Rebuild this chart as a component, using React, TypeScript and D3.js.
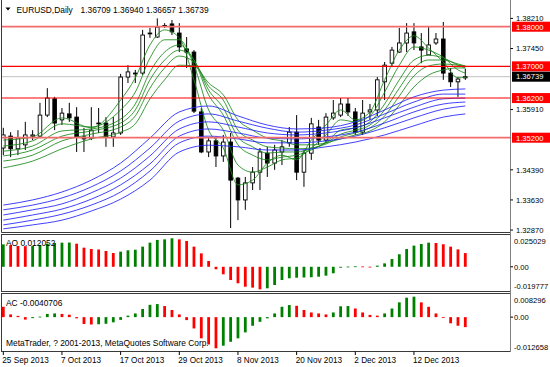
import React from 'react';
import * as d3 from 'd3';

const TITLE = 'EURUSD,Daily';
const TITLE_VALUES = '1.36709 1.36940 1.36657 1.36739';
const COPYRIGHT = 'MetaTrader, ? 2001-2013, MetaQuotes Software Corp.';

const OPEN = [1.3494,1.3524,1.3492,1.3502,1.3524,1.3524,1.3577,1.3618,1.3565,1.3580,1.3572,1.3522,1.3519,1.3557,1.3557,1.3522,1.3532,1.3673,1.3681,1.3683,1.3782,1.3774,1.3802,1.3807,1.3784,1.3744,1.3736,1.3585,1.3484,1.3512,1.3474,1.3509,1.3418,1.3363,1.3406,1.3433,1.3481,1.3456,1.3484,1.3507,1.3534,1.3433,1.3481,1.3547,1.3514,1.3570,1.3577,1.3605,1.3585,1.3534,1.3585,1.3590,1.3661,1.3708,1.3736,1.3759,1.3787,1.3749,1.3729,1.3759,1.3769,1.3683,1.3661,1.36709];
const HIGH = [1.3545,1.3534,1.3539,1.3560,1.3539,1.3608,1.3645,1.3623,1.3595,1.3608,1.3597,1.3545,1.3597,1.3595,1.3572,1.3572,1.3681,1.3703,1.3691,1.3792,1.3797,1.3821,1.3809,1.3817,1.3809,1.3774,1.3741,1.3595,1.3522,1.3522,1.3527,1.3532,1.3421,1.3421,1.3446,1.3494,1.3497,1.3502,1.3514,1.3547,1.3577,1.3489,1.3570,1.3565,1.3582,1.3615,1.3620,1.3620,1.3595,1.3615,1.3605,1.3673,1.3711,1.3749,1.3797,1.3809,1.3809,1.3784,1.3799,1.3784,1.3812,1.3696,1.3673,1.36940];
const LOW = [1.3476,1.3471,1.3476,1.3489,1.3514,1.3519,1.3572,1.3539,1.3552,1.3560,1.3484,1.3484,1.3514,1.3532,1.3497,1.3497,1.3527,1.3658,1.3658,1.3678,1.3772,1.3772,1.3797,1.3779,1.3736,1.3696,1.3582,1.3481,1.3471,1.3446,1.3459,1.3292,1.3312,1.3338,1.3388,1.3388,1.3421,1.3439,1.3451,1.3497,1.3413,1.3396,1.3464,1.3502,1.3507,1.3565,1.3572,1.3575,1.3527,1.3527,1.3565,1.3575,1.3615,1.3698,1.3734,1.3736,1.3741,1.3708,1.3729,1.3754,1.3666,1.3648,1.3623,1.36657];
const CLOSE = [1.3527,1.3492,1.3519,1.3527,1.3527,1.3577,1.3620,1.3557,1.3582,1.3570,1.3522,1.3517,1.3539,1.3556,1.3522,1.3532,1.3673,1.3686,1.3683,1.3779,1.3784,1.3799,1.3803,1.3787,1.3749,1.3736,1.3587,1.3484,1.3512,1.3474,1.3509,1.3413,1.3363,1.3406,1.3433,1.3484,1.3456,1.3489,1.3497,1.3534,1.3433,1.3481,1.3555,1.3514,1.3572,1.3582,1.3605,1.3585,1.3534,1.3582,1.3590,1.3666,1.3703,1.3741,1.3759,1.3784,1.3759,1.3741,1.3754,1.3769,1.3683,1.3661,1.3668,1.36739];

// short-term moving averages (green), sampled at these bars
const GREEN_BARS = [0,4,8,12,16,18,20,22,24,26,28,30,32,34,36,38,40,42,44,46,48,50,52,54,56,58,60,62,63];
const G1 = [1.3514,1.3522,1.3570,1.3545,1.3615,1.3671,1.3754,1.3792,1.3772,1.3666,1.3539,1.3494,1.3401,1.3413,1.3456,1.3476,1.3464,1.3514,1.3552,1.3590,1.3565,1.3585,1.3666,1.3741,1.3777,1.3746,1.3711,1.3671,1.3673];
const G2 = [1.3499,1.3512,1.3555,1.3547,1.3590,1.3635,1.3721,1.3767,1.3767,1.3703,1.3590,1.3539,1.3451,1.3433,1.3446,1.3464,1.3469,1.3494,1.3527,1.3565,1.3560,1.3575,1.3635,1.3703,1.3749,1.3741,1.3723,1.3691,1.3683];
const G3 = [1.3486,1.3499,1.3537,1.3542,1.3567,1.3605,1.3686,1.3736,1.3754,1.3716,1.3628,1.3577,1.3502,1.3476,1.3464,1.3471,1.3476,1.3489,1.3509,1.3539,1.3545,1.3560,1.3605,1.3666,1.3716,1.3728,1.3721,1.3703,1.3696];
const G4 = [1.3474,1.3489,1.3524,1.3537,1.3557,1.3590,1.3666,1.3716,1.3741,1.3716,1.3640,1.3595,1.3522,1.3497,1.3481,1.3484,1.3484,1.3492,1.3507,1.3529,1.3539,1.3552,1.3590,1.3645,1.3696,1.3716,1.3716,1.3706,1.3701];
const G5 = [1.3461,1.3476,1.3512,1.3529,1.3547,1.3575,1.3645,1.3696,1.3726,1.3711,1.3650,1.3615,1.3539,1.3514,1.3497,1.3494,1.3492,1.3494,1.3504,1.3522,1.3532,1.3545,1.3575,1.3625,1.3676,1.3701,1.3706,1.3703,1.3701];
const G6 = [1.3444,1.3461,1.3492,1.3517,1.3534,1.3555,1.3618,1.3666,1.3703,1.3701,1.3658,1.3628,1.3565,1.3539,1.3519,1.3512,1.3502,1.3502,1.3507,1.3517,1.3527,1.3537,1.3560,1.3602,1.3648,1.3678,1.3691,1.3696,1.3696];

// long-term moving averages (blue)
const BLUE_BARS = [0,4,8,12,16,20,24,28,32,36,40,44,48,52,56,60,63];
const B1 = [1.3350,1.3363,1.3383,1.3413,1.3456,1.3519,1.3585,1.3600,1.3575,1.3552,1.3542,1.3545,1.3560,1.3590,1.3623,1.3640,1.3643];
const B2 = [1.3338,1.3350,1.3368,1.3396,1.3436,1.3494,1.3562,1.3580,1.3562,1.3544,1.3534,1.3539,1.3552,1.3580,1.3610,1.3630,1.3630];
const B3 = [1.3325,1.3338,1.3353,1.3381,1.3418,1.3474,1.3542,1.3560,1.3547,1.3532,1.3527,1.3532,1.3545,1.3570,1.3597,1.3618,1.3620];
const B4 = [1.3312,1.3325,1.3340,1.3365,1.3401,1.3454,1.3524,1.3542,1.3532,1.3519,1.3517,1.3522,1.3534,1.3557,1.3585,1.3605,1.3610];
const B5 = [1.3300,1.3312,1.3327,1.3350,1.3383,1.3436,1.3507,1.3524,1.3517,1.3507,1.3507,1.3512,1.3524,1.3545,1.3570,1.3592,1.3600];
const B6 = [1.3290,1.3300,1.3312,1.3335,1.3365,1.3413,1.3484,1.3501,1.3497,1.3489,1.3489,1.3497,1.3509,1.3527,1.3550,1.3572,1.3580];

const AO_BEFORE = 0.0194;
const AO = [0.0197,0.0190,0.0183,0.0181,0.0183,0.0192,0.0203,0.0209,0.0212,0.0213,0.0203,0.0168,0.0156,0.0152,0.0139,0.0121,0.0133,0.0145,0.0150,0.0177,0.0212,0.0236,0.0241,0.025029,0.0241,0.0227,0.0177,0.0118,0.0051,-0.0022,-0.0066,-0.0116,-0.0145,-0.0175,-0.0183,-0.019777,-0.0189,-0.0160,-0.0116,-0.0101,-0.0096,-0.0094,-0.0092,-0.0087,-0.0078,-0.0057,-0.0008,0.0002,0.0004,0.0003,0.0001,0.0010,0.0030,0.0068,0.0110,0.0156,0.0186,0.0200,0.0212,0.0209,0.0198,0.0177,0.0153,0.012052];
const AC_BEFORE = 0.0050;
const AC = [0.0042,0.0011,0.0005,-0.0010,-0.0004,0.0002,0.0013,0.0015,0.0013,0.0010,-0.0005,-0.0028,-0.0030,-0.0029,-0.0027,-0.0021,-0.0011,0.0006,0.0015,0.0033,0.0050,0.0053,0.0045,0.0029,0.0011,-0.0012,-0.0046,-0.0086,-0.0111,-0.012658,-0.0116,-0.0100,-0.0086,-0.0062,-0.0035,-0.0019,-0.0005,0.0015,0.0042,0.0049,0.0046,0.0029,0.0019,0.0015,0.0011,0.0019,0.0044,0.0045,0.0035,0.0019,0.0009,0.0006,0.0015,0.0035,0.0060,0.0079,0.008296,0.0060,0.0042,0.0015,-0.0001,-0.0025,-0.0035,-0.0040706];

const PRICE_TICKS = [1.3821, 1.3745, 1.3591, 1.3439, 1.3363, 1.3287];
const LEVELS = [1.38, 1.37, 1.362, 1.352];
const CURRENT = 1.36739;
const AO_RANGE = [-0.019777, 0.025029];
const AC_RANGE = [-0.012658, 0.008296];
const DATE_BARS = [0, 8, 16, 24, 32, 40, 48, 56];
const DATE_LABELS = ['25 Sep 2013', '7 Oct 2013', '17 Oct 2013', '29 Oct 2013', '8 Nov 2013', '20 Nov 2013', '2 Dec 2013', '12 Dec 2013'];

const FONT = "'Liberation Sans', Arial, sans-serif";
const GREEN = '#008000';
const RED = '#ff0000';
// look of each level line (the outer two render softer in the reference)
const LEVEL_COLOR = ['#f36c6c', RED, RED, '#f36c6c'];
const LEVEL_WIDTH = [1.7, 1.1, 1.1, 1.7];

export default function App() {
  const x = d3.scaleLinear().domain([0, 63]).range([3.3, 465.3]);
  const y = d3.scaleLinear().domain([1.32821, 1.38674]).range([232, 0]);
  const yAO = d3.scaleLinear().domain(AO_RANGE).range([289.3, 238.3]);
  const yAC = d3.scaleLinear().domain(AC_RANGE).range([348.3, 296.7]);
  const XL = 1.5, XR = 510.5;

  const mkLine = (bars: number[], vals: number[]) =>
    d3.line<number>().x((_, i) => x(bars[i])).y(v => y(v)).curve(d3.curveMonotoneX)(vals) || '';

  const greens = [G1, G2, G3, G4, G5, G6];
  const blues = [B1, B2, B3, B4, B5, B6];

  const fmt = (v: number) => v.toFixed(5);

  return (
    <svg width={550} height={367} style={{ position: 'absolute', left: 0, top: 0, background: '#fff' }} fontFamily={FONT}>
      <defs>
        <clipPath id="mainclip"><rect x={XL} y={0} width={XR - XL} height={232.5} /></clipPath>
        <clipPath id="aoclip"><rect x={XL} y={234.5} width={XR - XL} height={57} /></clipPath>
        <clipPath id="acclip"><rect x={XL} y={293.5} width={XR - XL} height={58} /></clipPath>
      </defs>
      <rect x={0} y={0} width={550} height={367} fill="#fff" />

      {/* main panel */}
      <g clipPath="url(#mainclip)">
        <line x1={XL} x2={XR} y1={y(CURRENT)} y2={y(CURRENT)} stroke="#c0c0c0" strokeWidth={1} />
        {OPEN.map((o, i) => {
          const c = CLOSE[i];
          const cx = x(i);
          const top = y(Math.max(o, c));
          const bot = y(Math.min(o, c));
          const up = c >= o;
          return (
            <g key={i}>
              <line x1={cx} x2={cx} y1={y(HIGH[i])} y2={y(LOW[i])} stroke="#000" strokeWidth={1} />
              <rect x={cx - 1.8} y={top} width={3.6} height={Math.max(bot - top, 0.8)}
                fill={up ? '#fff' : '#000'} stroke="#000" strokeWidth={0.9} />
            </g>
          );
        })}
        {greens.map((g, k) => (
          <path key={'g' + k} d={mkLine(GREEN_BARS, g)} fill="none" stroke="#1a8a1a" strokeOpacity={0.85} strokeWidth={1} />
        ))}
        {blues.map((b, k) => (
          <path key={'b' + k} d={mkLine(BLUE_BARS, b)} fill="none" stroke="#2020ff" strokeOpacity={0.85} strokeWidth={1} />
        ))}
        {LEVELS.map((lv, k) => (
          <line key={'lv' + k} x1={XL} x2={XR} y1={y(lv)} y2={y(lv)} stroke={LEVEL_COLOR[k]} strokeWidth={LEVEL_WIDTH[k]} />
        ))}
      </g>
      <text x={16.5} y={12.5} fontSize={8.4} fill="#000">{TITLE}</text>
      <text x={80.5} y={12.5} fontSize={8.4} fill="#000">{TITLE_VALUES}</text>
      <path d="M5.5,7.5 L10.5,7.5 L8,10.5 Z" fill="#000" />

      {/* AO */}
      <g clipPath="url(#aoclip)">
        {AO.map((v, i) => {
          const prev = i === 0 ? AO_BEFORE : AO[i - 1];
          const y0 = yAO(0), y1 = yAO(v);
          return <rect key={i} x={x(i) - 1.4} width={2.8} y={Math.min(y0, y1)} height={Math.max(Math.abs(y1 - y0), 0.8)} fill={v > prev ? GREEN : RED} />;
        })}
      </g>
      <text x={6} y={245.5} fontSize={8.4} fill="#000">AO 0.012052</text>

      {/* AC */}
      <g clipPath="url(#acclip)">
        {AC.map((v, i) => {
          const prev = i === 0 ? AC_BEFORE : AC[i - 1];
          const y0 = yAC(0), y1 = yAC(v);
          return <rect key={i} x={x(i) - 1.4} width={2.8} y={Math.min(y0, y1)} height={Math.max(Math.abs(y1 - y0), 0.8)} fill={v > prev ? GREEN : RED} />;
        })}
      </g>
      <text x={6} y={305.5} fontSize={8.4} fill="#000">AC -0.0040706</text>
      <text x={6} y={346} fontSize={8.4} fill="#000">{COPYRIGHT}</text>

      {/* frames */}
      <g stroke="#3a3a3a" strokeWidth={1} fill="none">
        <line x1={XL} x2={XL} y1={0} y2={232.5} />
        <line x1={XL} x2={XR} y1={232.5} y2={232.5} />
        <rect x={XL} y={234.5} width={XR - XL} height={57} />
        <rect x={XL} y={293.5} width={XR - XL} height={58} />
      </g>
      <line x1={XR} x2={XR} y1={0} y2={352} stroke="#808080" strokeWidth={1} />

      {/* price axis */}
      {PRICE_TICKS.map((p, k) => (
        <g key={'pt' + k}>
          <line x1={XR} x2={XR + 2.5} y1={y(p)} y2={y(p)} stroke="#000" />
          <text x={516} y={y(p) + 2.8} fontSize={7.6} fill="#000">{fmt(p)}</text>
        </g>
      ))}
      {LEVELS.map((p, k) => (
        <g key={'lb' + k}>
          <rect x={512} y={y(p) - 5} width={38} height={10} fill={RED} />
          <text x={516} y={y(p) + 2.8} fontSize={7.6} fill="#fff">{fmt(p)}</text>
        </g>
      ))}
      <rect x={512} y={y(CURRENT) - 5} width={38} height={10} fill="#000" />
      <text x={516} y={y(CURRENT) + 2.8} fontSize={7.6} fill="#fff">{fmt(CURRENT)}</text>

      {/* AO axis */}
      <text x={514} y={yAO(AO_RANGE[1]) + 6} fontSize={7.6} fill="#000">{AO_RANGE[1].toFixed(6)}</text>
      <line x1={XR} x2={XR + 2.5} y1={yAO(0)} y2={yAO(0)} stroke="#000" />
      <text x={514} y={yAO(0) + 2.8} fontSize={7.6} fill="#000">0.00</text>
      <text x={514} y={yAO(AO_RANGE[0]) - 0.5} fontSize={7.6} fill="#000">{AO_RANGE[0].toFixed(6)}</text>

      {/* AC axis */}
      <text x={514} y={yAC(AC_RANGE[1]) + 6} fontSize={7.6} fill="#000">{AC_RANGE[1].toFixed(6)}</text>
      <line x1={XR} x2={XR + 2.5} y1={yAC(0)} y2={yAC(0)} stroke="#000" />
      <text x={514} y={yAC(0) + 2.8} fontSize={7.6} fill="#000">0.00</text>
      <text x={514} y={yAC(AC_RANGE[0]) + 1.5} fontSize={7.6} fill="#000">{AC_RANGE[0].toFixed(6)}</text>

      {/* date axis */}
      {DATE_BARS.map((b, k) => (
        <g key={'d' + k}>
          <line x1={x(b)} x2={x(b)} y1={351.5} y2={355} stroke="#000" />
          <text x={x(b) - 1} y={363} fontSize={8.2} fill="#000">{DATE_LABELS[k]}</text>
        </g>
      ))}
    </svg>
  );
}
